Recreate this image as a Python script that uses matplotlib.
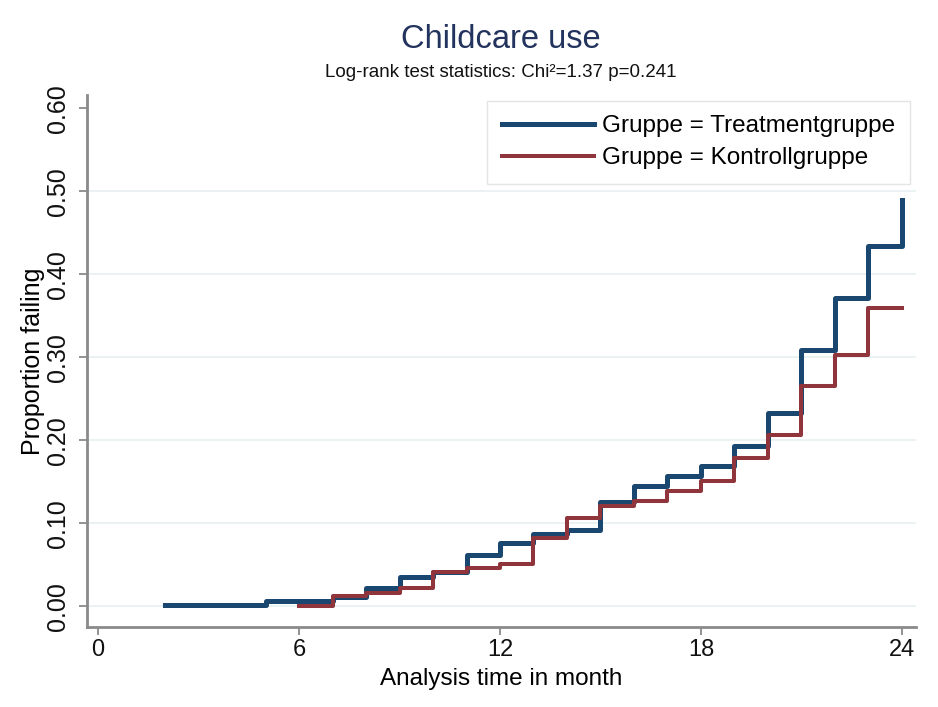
import matplotlib
matplotlib.use('Agg')
import matplotlib.pyplot as plt

plt.rcParams['font.family'] = ['Liberation Sans', 'DejaVu Sans']

# Kaplan-Meier failure estimates by month
months_treat = [2, 5, 7, 8, 9, 10, 11, 12, 13, 14, 15, 16, 17, 18, 19, 20, 21, 22, 23, 24]
fail_treat = [0.002, 0.006, 0.011, 0.022, 0.035, 0.041, 0.062, 0.077, 0.087, 0.092,
              0.126, 0.145, 0.157, 0.169, 0.193, 0.233, 0.309, 0.371, 0.434, 0.490]
months_ctrl = [6, 7, 8, 9, 10, 11, 12, 13, 14, 15, 16, 17, 18, 19, 20, 21, 22, 23, 24]
fail_ctrl = [0.0, 0.012, 0.016, 0.022, 0.042, 0.046, 0.051, 0.082, 0.106, 0.121,
             0.127, 0.139, 0.151, 0.179, 0.207, 0.265, 0.303, 0.359, 0.359]

xticks = [0, 6, 12, 18, 24]
yticks = [0.0, 0.1, 0.2, 0.3, 0.4, 0.5, 0.6]
grid_y = [0.0, 0.1, 0.2, 0.3, 0.4, 0.5]

navy = '#1a476f'
maroon = '#90353b'
axis_grey = '#8a8a8a'

fig = plt.figure(figsize=(9.38, 7.07), dpi=100)
ax = fig.add_axes([0.0928, 0.1132, 0.8837, 0.7524])

for g in grid_y:
    ax.axhline(g, color='#e8f0f2', lw=1.2, zorder=0)

ax.step(months_treat, fail_treat, where='post', color=navy, lw=3.6,
        label='Gruppe = Treatmentgruppe', zorder=2)
ax.step(months_ctrl, fail_ctrl, where='post', color=maroon, lw=2.9,
        label='Gruppe = Kontrollgruppe', zorder=3)

ax.set_xlim(-0.33, 24.42)
ax.set_ylim(-0.0247, 0.616)
ax.set_xticks(xticks)
ax.set_yticks(yticks)
ax.set_yticklabels(['%.2f' % v for v in yticks], rotation=90, va='center')
ax.tick_params(axis='both', colors=axis_grey, labelcolor='#111111',
               length=6, width=1.3)
ax.tick_params(axis='x', pad=3, labelsize=17)
ax.tick_params(axis='y', pad=6, labelsize=18)

for side in ['top', 'right']:
    ax.spines[side].set_visible(False)
for side in ['left', 'bottom']:
    ax.spines[side].set_color(axis_grey)
    ax.spines[side].set_linewidth(2)

ax.set_xlabel('Analysis time in month', fontsize=17.5, labelpad=5)
ax.set_ylabel('Proportion failing', fontsize=18, labelpad=1)

leg = ax.legend(loc='upper right', bbox_to_anchor=(0.993, 0.989), borderaxespad=0,
                fontsize=17.5, handlelength=3.8, handletextpad=0.35, fancybox=False,
                framealpha=1, edgecolor='#e4e4e4', borderpad=0.6, labelspacing=0.4)
leg.get_frame().set_linewidth(1)

fig.text(0.534, 0.944, 'Childcare use', ha='center', va='center', fontsize=23.5,
         color='#22335e')
fig.text(0.534, 0.898, 'Log-rank test statistics: Chi\u00b2=1.37 p=0.241', ha='center',
         va='center', fontsize=13.5, color='#111111')

fig.savefig('out.png', dpi=100)
